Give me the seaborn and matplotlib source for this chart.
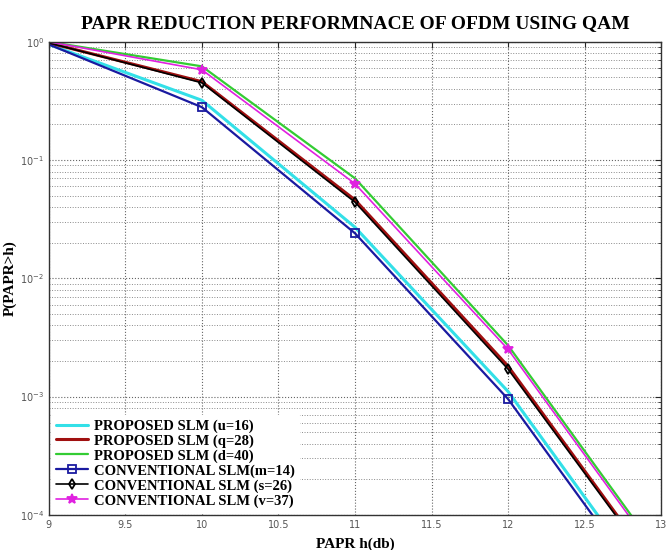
import matplotlib
matplotlib.use("Agg")
import matplotlib.pyplot as plt
import seaborn as sns
import pandas as pd
from matplotlib.ticker import LogLocator, NullFormatter

papr = [9, 10, 11, 12, 13]
prop_u16 = [0.95, 0.32, 0.027, 0.0011, 1.8e-5]
prop_q28 = [0.98, 0.46, 0.046, 0.0018, 3.05e-5]
prop_d40 = [1.0, 0.62, 0.070, 0.0027, 4.4e-5]
conv_m14 = [0.95, 0.28, 0.024, 0.00095, 1.57e-5]
conv_s26 = [0.98, 0.45, 0.044, 0.0017, 2.95e-5]
conv_v37 = [1.0, 0.58, 0.063, 0.0025, 4.1e-5]

labels = ["PROPOSED SLM (u=16)", "PROPOSED SLM (q=28)", "PROPOSED SLM (d=40)",
          "CONVENTIONAL SLM(m=14)", "CONVENTIONAL SLM (s=26)", "CONVENTIONAL SLM (v=37)"]
series = [prop_u16, prop_q28, prop_d40, conv_m14, conv_s26, conv_v37]
colors = ["#33e0e8", "#a01010", "#33cc33", "#1a1aa0", "#000000", "#e020e0"]
widths = [2.2, 2.2, 1.6, 1.6, 1.2, 1.2]
markers = [None, None, None, "s", "d", "*"]
mfc = [None, None, None, "none", "none", "#e020e0"]
msize = [0, 0, 0, 6, 5, 7]

sns.set_style("white")
plt.rcParams["font.family"] = ["DejaVu Sans"]
plt.rcParams["text.color"] = "black"
plt.rcParams["axes.labelcolor"] = "black"

fig = plt.figure(figsize=(6.68, 5.5), dpi=100)
ax = fig.add_axes([0.073, 0.064, 0.917, 0.860])

for lab, vals, c, w, m, fc, ms in zip(labels, series, colors, widths, markers, mfc, msize):
    df = pd.DataFrame({"x": papr, "y": vals})
    kw = dict(color=c, linewidth=w, label=lab, ax=ax)
    if m is not None:
        kw.update(marker=m, markersize=ms, markerfacecolor=fc, markeredgecolor=c,
                  markeredgewidth=1.3, markevery=[1, 2, 3])
    sns.lineplot(data=df, x="x", y="y", **kw)

ax.set_yscale("log")
ax.set_xlim(9, 13)
ax.set_ylim(1e-4, 1)
ax.set_xticks([9, 9.5, 10, 10.5, 11, 11.5, 12, 12.5, 13])
ax.set_xticklabels(["9", "9.5", "10", "10.5", "11", "11.5", "12", "12.5", "13"])
ax.yaxis.set_major_locator(LogLocator(base=10, numticks=10))
ax.yaxis.set_minor_locator(LogLocator(base=10, subs=range(2, 10), numticks=20))
ax.yaxis.set_minor_formatter(NullFormatter())
ax.tick_params(axis="both", which="major", labelsize=7, labelcolor="#555555", direction="in", length=4)
ax.tick_params(axis="y", which="minor", direction="in", length=2)
ax.tick_params(top=True, right=True, which="both")
ax.grid(True, which="major", linestyle=":", color="#666666", linewidth=0.8)
ax.grid(True, which="minor", axis="y", linestyle=":", color="#8a8a8a", linewidth=0.7)
for s in ax.spines.values():
    s.set_color("#333333")
    s.set_linewidth(1.0)

ax.set_title("PAPR REDUCTION PERFORMNACE OF OFDM USING QAM", fontfamily="Liberation Serif",
             fontweight="bold", fontsize=14, pad=10, color="black")
ax.set_xlabel("PAPR h(db)", fontfamily="Liberation Serif", fontweight="bold", fontsize=11, labelpad=6)
ax.set_ylabel("P(PAPR>h)", fontfamily="Liberation Serif", fontweight="bold", fontsize=11)
ax.yaxis.set_label_coords(-0.052, 0.5)

leg = ax.legend(loc="lower left", frameon=True, fancybox=False, framealpha=1,
                prop={"family": "Liberation Serif", "weight": "bold", "size": 10.5},
                handlelength=2.2, borderpad=0.3, labelspacing=0.1, handletextpad=0.4,
                borderaxespad=0.2)
leg.get_frame().set_edgecolor("white")

fig.savefig("out.png", dpi=100)
